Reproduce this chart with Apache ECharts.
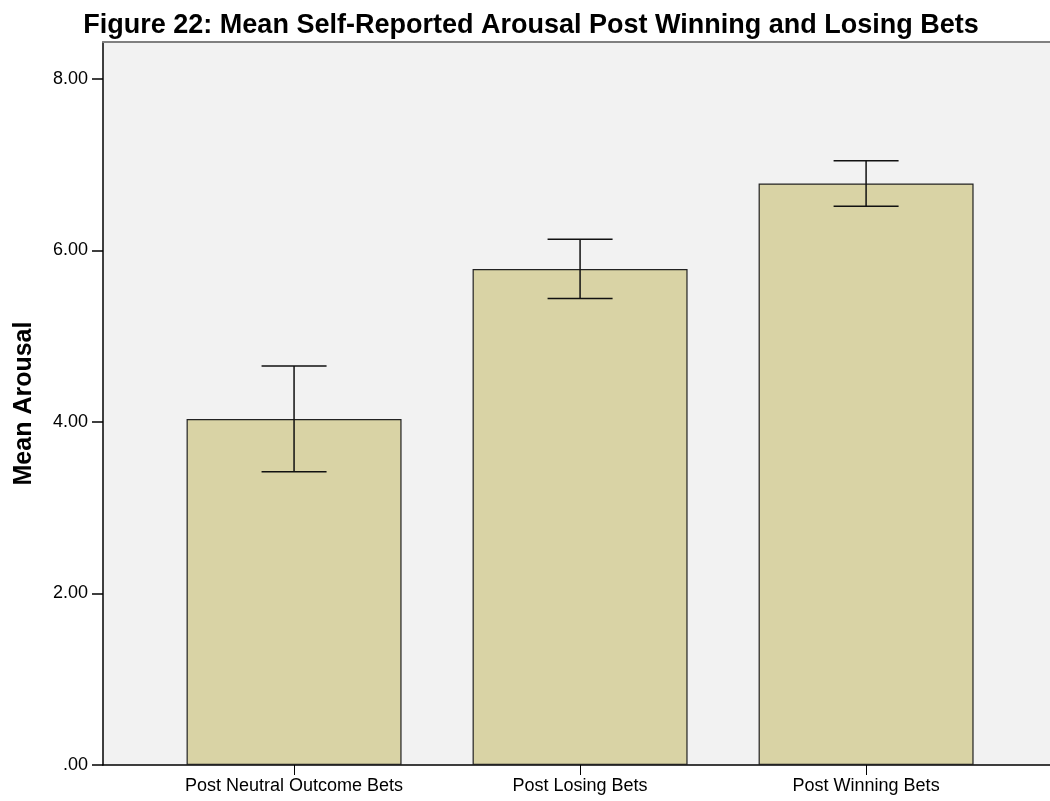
<!DOCTYPE html>
<html>
<head>
<meta charset="utf-8">
<script src="https://cdn.jsdelivr.net/npm/echarts@6/dist/echarts.min.js"></script>
<style>html,body{margin:0;padding:0;background:#fff;}#c{width:1050px;height:801px;}</style>
</head>
<body>
<div id="c"></div>
<script>
var categories = ['Post Neutral Outcome Bets', 'Post Losing Bets', 'Post Winning Bets'];
var means = [4.035, 5.784, 6.78];
var lowerCI = [3.42, 5.438, 6.516];
var upperCI = [4.653, 6.13, 7.044];
var yTicks = [0, 2, 4, 6, 8];

var font = 'Liberation Sans, Arial, sans-serif';
var chart = echarts.init(document.getElementById('c'), null, {renderer: 'canvas'});
var xMin = -0.668, xMax = 2.643;
var option = {
  backgroundColor: '#ffffff',
  animation: false,
  title: {
    text: 'Figure 22: Mean Self-Reported Arousal Post Winning and Losing Bets',
    left: 526, top: 7, textAlign: 'center',
    textStyle: {fontFamily: font, fontSize: 27, fontWeight: 'bold', color: '#000'}
  },
  grid: {left: 103, right: 0, top: 42, bottom: 36, show: true, backgroundColor: '#F2F2F2', borderWidth: 0,
    outerBoundsMode: 'none', containLabel: false},
  xAxis: [{
    type: 'value', min: xMin, max: xMax,
    splitLine: {show: false},
    axisLine: {show: true, onZero: false, lineStyle: {color: '#000', width: 1.5}},
    axisTick: {show: true, length: 10, customValues: [0, 1, 2], lineStyle: {color: '#000'}},
    axisLabel: {show: true, customValues: [0, 1, 2], margin: 12,
      formatter: function (v) { return categories[Math.round(v)]; },
      fontFamily: font, fontSize: 18, color: '#000'}
  }, {
    type: 'value', min: xMin, max: xMax, position: 'top',
    splitLine: {show: false},
    axisLine: {show: true, onZero: false, lineStyle: {color: '#808080', width: 2}},
    axisTick: {show: false}, axisLabel: {show: false}
  }],
  yAxis: {
    type: 'value', min: 0, max: 8.43,
    name: 'Mean Arousal', nameLocation: 'middle', nameGap: 66, nameRotate: 90,
    nameTextStyle: {fontFamily: font, fontSize: 25, fontWeight: 'bold', color: '#000'},
    splitLine: {show: false},
    axisLine: {show: true, onZero: false, lineStyle: {color: '#000', width: 1.5}},
    axisTick: {show: true, length: 11, customValues: yTicks, lineStyle: {color: '#000', width: 1.5}},
    axisLabel: {customValues: yTicks, margin: 15, fontFamily: font, fontSize: 18, color: '#000',
      formatter: function (v) { return v === 0 ? '.00' : v.toFixed(2); }}
  },
  series: [{
    type: 'bar', xAxisIndex: 0,
    data: means.map(function (m, i) { return [i, m]; }),
    barWidth: 215,
    itemStyle: {color: '#D9D3A5', borderColor: '#222', borderWidth: 1.2}
  }, {
    type: 'custom', xAxisIndex: 0,
    data: means.map(function (m, i) { return [i, lowerCI[i], upperCI[i]]; }),
    renderItem: function (params, api) {
      var x = api.value(0);
      var lo = api.coord([x, api.value(1)]);
      var hi = api.coord([x, api.value(2)]);
      var hw = 32.5;
      var st = {stroke: '#111', lineWidth: 1.5};
      return {type: 'group', children: [
        {type: 'line', shape: {x1: hi[0], y1: hi[1], x2: lo[0], y2: lo[1]}, style: st},
        {type: 'line', shape: {x1: hi[0] - hw, y1: hi[1], x2: hi[0] + hw, y2: hi[1]}, style: st},
        {type: 'line', shape: {x1: lo[0] - hw, y1: lo[1], x2: lo[0] + hw, y2: lo[1]}, style: st}
      ]};
    },
    z: 5
  }]
};
chart.setOption(option);
</script>
</body>
</html>
